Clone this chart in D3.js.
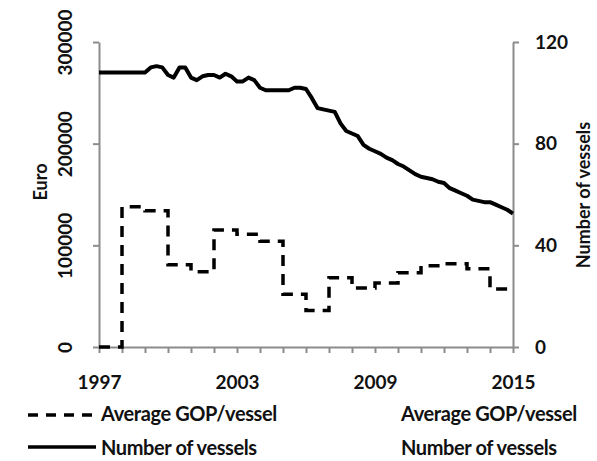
<!DOCTYPE html>
<html>
<head>
<meta charset="utf-8">
<script src="https://cdn.jsdelivr.net/npm/d3@7"></script>
<style>
  body { margin: 0; background: #fff; }
  text { font-family: Lato, "Open Sans", sans-serif; font-weight: bold; fill: #111; }
</style>
</head>
<body>
<svg></svg>
<script>
const width = 597;
const height = 461;

// x axis: one tick per year, labels every 6 years
const yearTicks = [1997, 1998, 1999, 2000, 2001, 2002, 2003, 2004, 2005, 2006,
  2007, 2008, 2009, 2010, 2011, 2012, 2013, 2014, 2015];
const yearLabels = [1997, 2003, 2009, 2015];
const euroTicks = [0, 100000, 200000, 300000];
const vesselTicks = [0, 40, 80, 120];

// Average GOP/vessel (Euro), one value per year, held until the next year
const gopYears = [1997, 1998, 1999, 2000, 2001, 2002, 2003, 2004, 2005, 2006,
  2007, 2008, 2009, 2010, 2011, 2012, 2013, 2014, 2015];
const gopValues = [0, 138000, 134000, 81000, 74000, 115000, 111000, 104000, 52000, 36000,
  68000, 58000, 63000, 73000, 80000, 82000, 77000, 57000, 57000];

// Number of vessels, quarterly from 1997 Q1 to 2015 Q1
const vesselValues = [
  108, 108, 108, 108, 108, 108, 108, 108,
  108, 110, 110.5, 110, 107, 106, 110, 110,
  106, 105, 106.5, 107, 107, 106, 107.5, 106.5,
  104.5, 104.5, 106, 105, 102, 101, 101, 101,
  101, 101, 102, 102, 101.5, 98, 94, 93.5,
  93, 92.5, 88, 85, 84, 83, 79.5, 78,
  77, 76, 74.5, 73.5, 72, 71, 69.5, 68,
  67, 66.5, 66, 65, 64.5, 62.5, 61.5, 60.5,
  59.5, 58, 57.5, 57, 57, 56, 55, 54,
  52.5
];

const svg = d3.select("svg").attr("width", width).attr("height", height);
svg.append("rect").attr("width", width).attr("height", height).attr("fill", "#fff");

const x = d3.scaleLinear().domain([1997, 2015]).range([99, 513]);
const yL = d3.scaleLinear().domain([0, 300000]).range([347, 42]);
const yR = d3.scaleLinear().domain([0, 120]).range([347, 42]);

function styleAxis(g) {
  g.select(".domain").attr("stroke", "#8c8c8c").attr("stroke-width", 2);
  g.selectAll(".tick line").attr("stroke", "#8c8c8c").attr("stroke-width", 2);
  g.selectAll("text").attr("font-family", null).attr("fill", "#111");
}

// left axis
const gL = svg.append("g").attr("transform", "translate(99,0)")
  .call(d3.axisLeft(yL).tickValues(euroTicks).tickSize(6).tickSizeOuter(0).tickFormat(d3.format("d")));
styleAxis(gL);
gL.selectAll(".tick text")
  .attr("font-size", 19)
  .attr("transform", "rotate(-90)")
  .attr("text-anchor", "middle")
  .attr("x", 0).attr("y", -27).attr("dy", 0);

// right axis
const gR = svg.append("g").attr("transform", "translate(513,0)")
  .call(d3.axisRight(yR).tickValues(vesselTicks).tickSize(6).tickSizeOuter(0));
styleAxis(gR);
gR.selectAll(".tick text").attr("font-size", 19).attr("x", 22);

// bottom axis
const gB = svg.append("g").attr("transform", "translate(0,347)")
  .call(d3.axisBottom(x).tickValues(yearTicks).tickSize(6).tickSizeOuter(0)
    .tickFormat(d => yearLabels.includes(d) ? d : ""));
styleAxis(gB);
gB.selectAll(".tick text").attr("font-size", 19).attr("y", 29);

// axis titles
svg.append("text")
  .attr("transform", "translate(47,182) rotate(-90)")
  .attr("text-anchor", "middle")
  .attr("font-size", 18)
  .text("Euro");
svg.append("text")
  .attr("transform", "translate(590,195) rotate(-90)")
  .attr("text-anchor", "middle")
  .attr("font-size", 18)
  .text("Number of vessels");

// series
const gopData = gopYears.map((yr, i) => ({ t: yr, v: gopValues[i] }));
const vesselData = vesselValues.map((v, i) => ({ t: 1997 + i / 4, v }));

svg.append("path")
  .datum(gopData)
  .attr("fill", "none")
  .attr("stroke", "#000")
  .attr("stroke-width", 3.5)
  .attr("stroke-dasharray", "11,8")
  .attr("d", d3.line().curve(d3.curveStepAfter).x(d => x(d.t)).y(d => yL(d.v)));

svg.append("path")
  .datum(vesselData)
  .attr("fill", "none")
  .attr("stroke", "#000")
  .attr("stroke-width", 4)
  .attr("stroke-linejoin", "round")
  .attr("d", d3.line().x(d => x(d.t)).y(d => yR(d.v)));

// legend
const legend = svg.append("g");
legend.append("line")
  .attr("x1", 28).attr("x2", 92).attr("y1", 415).attr("y2", 415)
  .attr("stroke", "#000").attr("stroke-width", 3.5).attr("stroke-dasharray", "10,8");
legend.append("line")
  .attr("x1", 28).attr("x2", 96).attr("y1", 447).attr("y2", 447)
  .attr("stroke", "#000").attr("stroke-width", 3.5);

const legendRows = [
  { label: "Average GOP/vessel", y: 421 },
  { label: "Number of vessels", y: 455 }
];
[101, 401].forEach(lx => {
  legend.selectAll(null)
    .data(legendRows)
    .enter()
    .append("text")
    .attr("x", lx)
    .attr("y", d => d.y)
    .attr("font-size", 20)
    .attr("letter-spacing", -0.4)
    .text(d => d.label);
});
</script>
</body>
</html>
